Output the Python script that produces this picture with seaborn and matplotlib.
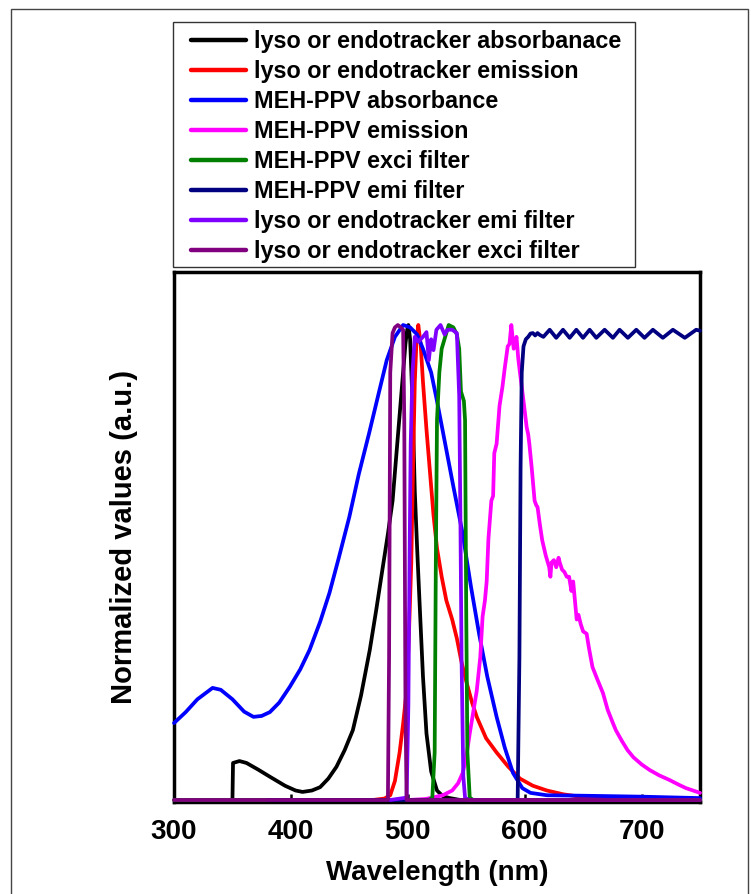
import matplotlib
matplotlib.use("Agg")
import matplotlib.pyplot as plt
from matplotlib.patches import Rectangle
from matplotlib.ticker import MultipleLocator
import seaborn as sns
import pandas as pd

# ---------------- data ----------------
series_names = [
    "lyso or endotracker absorbanace",
    "lyso or endotracker emission",
    "MEH-PPV absorbance",
    "MEH-PPV emission",
    "MEH-PPV exci filter",
    "MEH-PPV emi filter",
    "lyso or endotracker emi filter",
    "lyso or endotracker exci filter",
]
series_colors = ["#000000", "#FF0000", "#0000FF", "#FF00FF",
                 "#008000", "#000080", "#8000FF", "#800080"]

lyso_abs_x = [350, 350.5, 356, 362, 372, 382, 395, 404, 410, 418, 425, 432, 439, 446, 453,
              460, 467.5, 473, 478.6, 483, 487, 490, 493, 496, 498, 499.5, 500.5, 502, 504, 506,
              508, 510, 513, 516, 520, 525, 530, 536, 545, 750]
lyso_abs_y = [0.0, 0.078, 0.082, 0.078, 0.064, 0.049, 0.03, 0.02, 0.017, 0.02, 0.027, 0.045,
              0.07, 0.105, 0.147, 0.22, 0.316, 0.40, 0.49, 0.56, 0.63, 0.72, 0.81, 0.9, 0.96,
              0.99, 1.0, 0.97, 0.84, 0.65, 0.53, 0.42, 0.26, 0.14, 0.06, 0.02, 0.008, 0.004, 0.0, 0.0]

lyso_em_x = [470, 480, 485, 489, 493, 496, 499, 501, 503, 504.5, 506, 507.5, 509, 511, 513,
             516, 519, 522, 525, 529, 533, 538, 542, 546, 550, 555, 559, 567, 576, 586, 596,
             607, 619, 633, 647, 670, 700, 750]
lyso_em_y = [0.0, 0.003, 0.01, 0.04, 0.1, 0.16, 0.23, 0.35, 0.5, 0.7, 0.88, 0.97, 1.0, 0.96,
             0.88, 0.78, 0.69, 0.6, 0.53, 0.47, 0.42, 0.38, 0.34, 0.29, 0.25, 0.205, 0.175,
             0.13, 0.1, 0.07, 0.045, 0.03, 0.02, 0.012, 0.007, 0.004, 0.002, 0.0]

meh_abs_x = [300, 310, 320, 333, 340, 350, 360, 368, 375, 382, 390, 399, 408, 416, 425, 433,
             441, 450, 458, 467, 475, 482, 489, 496, 502, 508, 513, 520, 525, 532, 539, 547,
             554, 561, 568, 576, 583, 590, 598, 605, 619, 650, 700, 750]
meh_abs_y = [0.162, 0.185, 0.212, 0.236, 0.232, 0.212, 0.186, 0.175, 0.177, 0.185, 0.205,
             0.238, 0.275, 0.316, 0.375, 0.436, 0.51, 0.596, 0.685, 0.773, 0.855, 0.926,
             0.975, 1.0, 0.995, 0.98, 0.95, 0.9, 0.84, 0.75, 0.66, 0.56, 0.45, 0.35, 0.26,
             0.175, 0.11, 0.057, 0.025, 0.015, 0.01, 0.009, 0.007, 0.004]

meh_em_x = [500, 515, 521, 530, 538, 543, 547, 550, 553, 556, 559, 562, 564, 566, 567.5, 569,
            571.5, 573, 574, 576, 578.5, 581, 583, 585.5, 587, 588.6, 590.6, 592, 593, 594.5,
            595.7, 597, 599, 601.7, 603, 604, 606, 608.5, 610, 611, 613, 615, 618, 621, 622,
            623, 625, 627, 629, 630, 632, 634, 636, 638, 640, 641.5, 643, 644.5, 646, 648,
            650, 653, 655, 658, 662, 667, 671, 675, 678, 683, 688, 693, 700, 707, 715, 724,
            732, 738, 744, 750]
meh_em_y = [0.0, 0.002, 0.005, 0.01, 0.02, 0.035, 0.057, 0.09, 0.14, 0.185, 0.23, 0.3, 0.386,
            0.42, 0.46, 0.55, 0.63, 0.64, 0.73, 0.75, 0.83, 0.87, 0.91, 0.955, 0.96, 1.0,
            0.95, 0.96, 0.975, 0.93, 0.905, 0.88, 0.84, 0.785, 0.77, 0.75, 0.7, 0.63, 0.62,
            0.617, 0.58, 0.547, 0.515, 0.49, 0.47, 0.5, 0.505, 0.49, 0.51, 0.5, 0.485, 0.48,
            0.47, 0.47, 0.44, 0.46, 0.42, 0.38, 0.39, 0.37, 0.355, 0.35, 0.32, 0.28, 0.255,
            0.225, 0.19, 0.165, 0.147, 0.125, 0.105, 0.09, 0.075, 0.063, 0.052, 0.042, 0.032,
            0.025, 0.02, 0.015]

meh_exci_x = [300, 518, 521, 523, 524, 525, 527, 529, 532, 535, 539, 542, 544, 545.5, 548,
              549, 550, 551, 553, 556, 750]
meh_exci_y = [0.0, 0.0, 0.005, 0.1, 0.5, 0.8, 0.9, 0.95, 0.975, 1.0, 0.995, 0.98, 0.95, 0.86,
              0.84, 0.8, 0.4, 0.1, 0.005, 0.0, 0.0]

meh_emi_x = [380, 594, 595.5, 596.5, 597.5, 599, 601, 603, 605, 607, 609, 611, 613, 616,
             621.4, 627, 632.8, 638.5, 644.2, 649.9, 655.6, 661.3, 668.4, 675.5, 681.2, 688.3,
             695.5, 702.5, 709.7, 718.2, 726.8, 737, 746.7, 750]
meh_emi_y = [0.0, 0.0, 0.3, 0.7, 0.9, 0.955, 0.97, 0.975, 0.982, 0.983, 0.978, 0.983, 0.979,
             0.975, 0.99, 0.973, 0.99, 0.973, 0.99, 0.973, 0.99, 0.973, 0.99, 0.973, 0.99,
             0.973, 0.99, 0.973, 0.99, 0.973, 0.99, 0.973, 0.99, 0.988]

lyso_emi_x = [485, 499, 500.5, 501.5, 502.5, 504, 506, 509, 513, 516, 518, 520, 522, 524.5,
              528, 531.5, 534, 538, 542, 544, 545, 546, 547.5, 549, 552, 750]
lyso_emi_y = [0.0, 0.005, 0.2, 0.5, 0.75, 0.9, 0.975, 0.965, 0.975, 0.985, 0.926, 0.97, 0.947,
              0.99, 1.0, 0.98, 0.99, 0.99, 0.983, 0.85, 0.6, 0.3, 0.05, 0.005, 0.0, 0.0]

lyso_exci_x = [300, 483, 484, 485, 487, 489, 491.5, 494, 496, 497, 498, 499, 750]
lyso_exci_y = [0.0, 0.0, 0.3, 0.9, 0.983, 0.995, 1.0, 0.995, 0.99, 0.8, 0.2, 0.0, 0.0]

series_x = [lyso_abs_x, lyso_em_x, meh_abs_x, meh_em_x, meh_exci_x, meh_emi_x, lyso_emi_x, lyso_exci_x]
series_y = [lyso_abs_y, lyso_em_y, meh_abs_y, meh_em_y, meh_exci_y, meh_emi_y, lyso_emi_y, lyso_exci_y]

x_ticks = [300, 400, 500, 600, 700]

frames = []
for name, xs, ys in zip(series_names, series_x, series_y):
    frames.append(pd.DataFrame({"Wavelength": xs, "Value": ys, "Series": name}))
df = pd.concat(frames, ignore_index=True)

# ---------------- figure ----------------
sns.set_theme(style="white")
plt.rcParams["font.family"] = ["Liberation Sans", "DejaVu Sans"]
plt.rcParams["font.weight"] = "bold"
plt.rcParams["text.color"] = "black"
plt.rcParams["axes.labelcolor"] = "black"
plt.rcParams["xtick.color"] = "black"
plt.rcParams["ytick.color"] = "black"

W, H = 751, 894
fig = plt.figure(figsize=(W / 100, H / 100), dpi=100)
fig.patch.set_facecolor("white")
ax = fig.add_axes([174 / W, (H - 802) / H, 526 / W, 530 / H])

sns.lineplot(data=df, x="Wavelength", y="Value", hue="Series", hue_order=series_names,
             palette=dict(zip(series_names, series_colors)), estimator=None, sort=True,
             linewidth=2.7, ax=ax, legend=True)
for ln in ax.get_lines():
    ln.set_solid_joinstyle("round")
    ln.set_clip_on(False)

ax.set_xlim(300, 750)
ax.set_ylim(-2 / 475, 528 / 475)
ax.set_xticks(x_ticks)
ax.xaxis.set_minor_locator(MultipleLocator(50))
ax.set_yticks([])
ax.tick_params(axis="x", which="major", direction="in", length=6, width=1.8,
               labelsize=20, pad=12, bottom=True, top=False, colors="black")
ax.tick_params(axis="x", which="minor", direction="in", length=3, width=1.8,
               bottom=True, top=False, colors="black")
for lab in ax.get_xticklabels():
    lab.set_fontweight("bold")
for sp in ax.spines.values():
    sp.set_linewidth(2.5)
    sp.set_color("black")
    sp.set_zorder(0.5)

ax.set_xlabel("Wavelength (nm)", fontsize=20, fontweight="bold", labelpad=11, color="black")
ax.set_ylabel("Normalized values (a.u.)", fontsize=21, fontweight="bold", labelpad=26,
              color="black")

handles, labels = ax.get_legend_handles_labels()
ax.get_legend().remove()
leg = fig.legend(handles, labels, loc="upper left",
                 bbox_to_anchor=(191 / W, 1 - 30 / H), bbox_transform=fig.transFigure,
                 borderaxespad=0, frameon=False,
                 prop={"family": "Liberation Sans", "weight": "bold", "size": 16.8},
                 handlelength=2.35, handletextpad=0.34, labelspacing=0.30, borderpad=0.0)
for lh in leg.get_lines():
    lh.set_linewidth(3.2)
for t in leg.get_texts():
    t.set_color("black")

# legend frame
fig.patches.append(Rectangle((173 / W, 1 - 267 / H), (635 - 173) / W, (267 - 22) / H,
                             transform=fig.transFigure, fill=False,
                             edgecolor="#333333", linewidth=1.0))
# outer figure border
fig.patches.append(Rectangle((11 / W, -0.02), (748 - 11) / W, 1 - 9 / H + 0.02,
                             transform=fig.transFigure, fill=False,
                             edgecolor="#444444", linewidth=1.0))

fig.savefig("out.png", dpi=100)
